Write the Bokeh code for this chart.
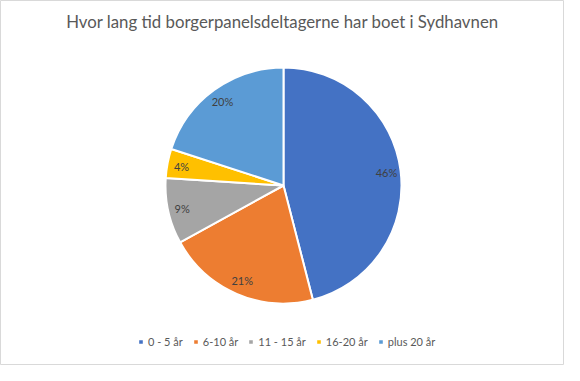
import math
from bokeh.plotting import figure
from bokeh.models import ColumnDataSource, Legend, LegendItem, Label, Range1d
from bokeh.core.properties import value
from bokeh.embed import file_html
from bokeh.resources import INLINE

title_text = "Hvor lang tid borgerpanelsdeltagerne har boet i Sydhavnen"
categories = ["0 - 5 år", "6-10 år", "11 - 15 år", "16-20 år", "plus 20 år"]
shares = [46, 21, 9, 4, 20]
colors = ["#4472C4", "#ED7D31", "#A5A5A5", "#FFC000", "#5B9BD5"]

W, H = 564, 365
R_PX = 118.0
CX, CY = 283.0, 185.0  # pie centre in figure pixels (from top-left)
FONT = "Lato"

total = float(sum(shares))
starts, ends, lx, ly, labels = [], [], [], [], []
cum = 0.0
for s in shares:
    a0 = math.pi / 2 - 2 * math.pi * (cum + s) / total
    a1 = math.pi / 2 - 2 * math.pi * cum / total
    starts.append(a0)
    ends.append(a1)
    mid = (a0 + a1) / 2
    lx.append(0.88 * math.cos(mid))
    ly.append(0.88 * math.sin(mid))
    labels.append(f"{round(100 * s / total)}%")
    cum += s

src = ColumnDataSource(dict(start=starts, end=ends, color=colors, cat=categories,
                            lx=lx, ly=ly, lab=labels))

p = figure(width=W, height=H, output_backend="svg", toolbar_location=None,
           x_range=Range1d(-CX / R_PX, (W - CX) / R_PX),
           y_range=Range1d(-(H - CY) / R_PX, CY / R_PX),
           min_border=0)
p.axis.visible = False
p.grid.visible = False
p.outline_line_color = "#d9d9d9"
p.outline_line_width = 1
p.background_fill_color = "white"

r = p.wedge(x=0, y=0, radius=1, start_angle="start", end_angle="end",
            fill_color="color", line_color="white", line_width=2, source=src)

p.text(x="lx", y="ly", text="lab", source=src, text_align="center",
       text_baseline="middle", text_font=value(FONT), text_font_size="11px",
       text_color="#404040")

p.add_layout(Label(x=W / 2, y=H - 21, x_units="screen", y_units="screen",
                   text=title_text, text_align="center", text_baseline="middle",
                   text_font=FONT, text_font_size="16.8px", text_color="#595959"))

items = [LegendItem(label=c, renderers=[r], index=i) for i, c in enumerate(categories)]
legend = Legend(items=items, orientation="horizontal", location=(137, 17),
                glyph_width=7, glyph_height=7, label_standoff=4, spacing=9,
                label_text_font=FONT, label_text_font_size="11px",
                label_text_color="#595959", border_line_color=None,
                background_fill_alpha=0, padding=4, margin=0)
p.add_layout(legend)

open("out.html", "w").write(file_html(p, INLINE))
